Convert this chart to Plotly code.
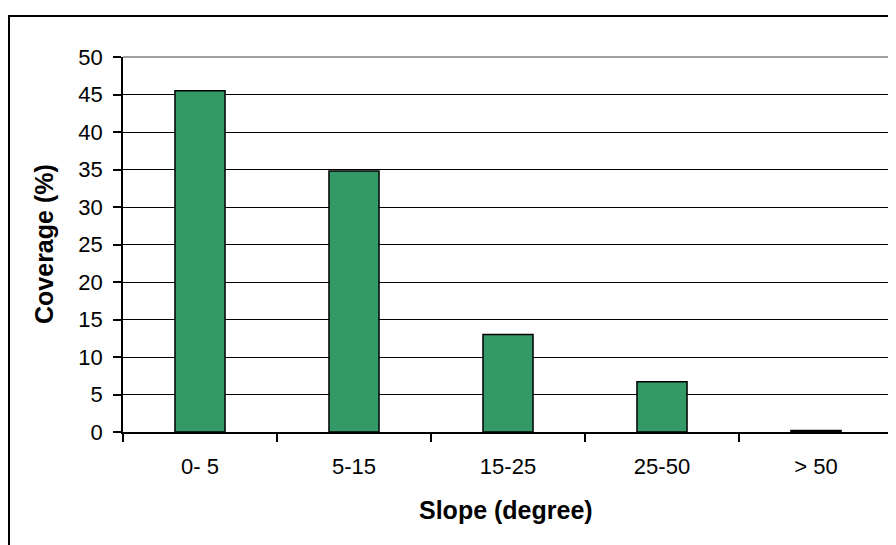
import plotly.graph_objects as go

categories = ["0- 5", "5-15", "15-25", "25-50", "> 50"]
coverage = [45.5, 34.8, 13.0, 6.7, 0.2]
y_ticks = [0, 5, 10, 15, 20, 25, 30, 35, 40, 45, 50]

FONT = "Liberation Sans, Arial, sans-serif"

# page body has an 8px margin; compensate so the figure lands at the intended pixels
OFF = 8
W, H = 896 - OFF, 545 - OFF
L, R, T, B = 123 - OFF, 3, 57 - OFF, 113
pw, ph = W - L - R, H - T - B


def px_x(x):
    return (x - OFF - L) / pw


def px_y(y):
    return (H - B - (y - OFF)) / ph


fig = go.Figure(go.Bar(
    x=categories, y=coverage,
    marker=dict(color="#339966", line=dict(color="black", width=1.5)),
    width=0.325,
))

fig.update_layout(
    width=W, height=H,
    margin=dict(l=L, r=R, t=T, b=B),
    paper_bgcolor="white", plot_bgcolor="white",
    showlegend=False,
    font=dict(family=FONT, size=22, color="black"),
    xaxis=dict(
        type="category", tickson="boundaries", ticks="outside", ticklen=8,
        tickcolor="black", tickwidth=1.5,
        showline=True, linecolor="black", linewidth=2,
        showgrid=False,
        tickfont=dict(size=22),
        ticklabelstandoff=14,
    ),
    yaxis=dict(
        range=[0, 50], tickvals=y_ticks, ticks="outside", ticklen=8,
        tickcolor="black", tickwidth=1.5,
        showline=True, linecolor="black", linewidth=1.5,
        showgrid=True, gridcolor="black", gridwidth=1,
        zeroline=False,
        tickfont=dict(size=22),
        ticklabelstandoff=6,
    ),
    annotations=[
        dict(text="<b>Slope (degree)</b>", xref="paper", yref="paper",
             x=px_x(506), y=px_y(510), showarrow=False,
             xanchor="center", yanchor="middle", font=dict(size=25)),
        dict(text="<b>Coverage (%)</b>", xref="paper", yref="paper",
             x=px_x(44), y=px_y(244), showarrow=False, textangle=-90,
             xanchor="center", yanchor="middle", font=dict(size=25)),
    ],
    shapes=[
        dict(type="line", xref="paper", yref="paper", x0=0, x1=1, y0=1, y1=1,
             line=dict(color="#808080", width=1.5)),
        dict(type="line", xref="paper", yref="paper", x0=1, x1=1, y0=0, y1=1,
             line=dict(color="#808080", width=1.5)),
        dict(type="rect", xref="paper", yref="paper",
             x0=px_x(9), x1=px_x(905), y0=px_y(560), y1=px_y(16),
             line=dict(color="black", width=2), layer="below"),
    ],
)

fig.write_html("out.html")
